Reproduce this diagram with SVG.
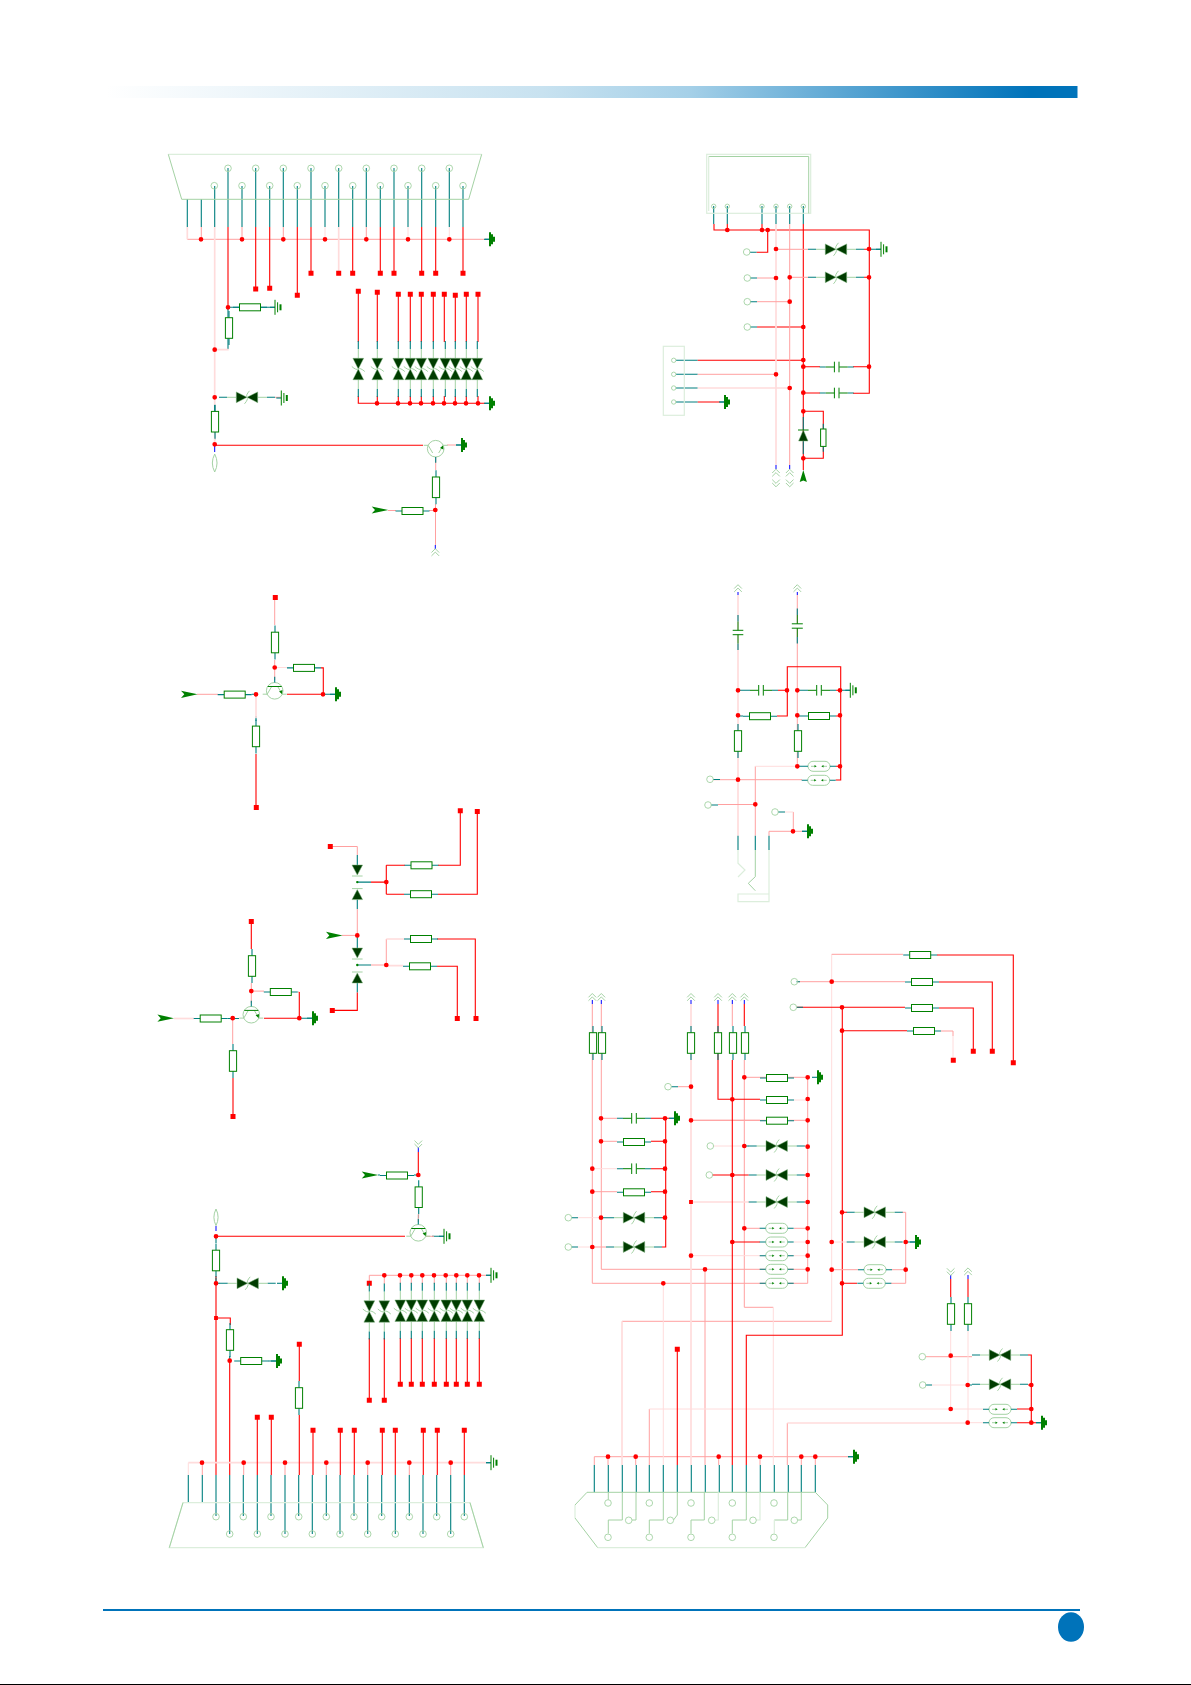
<svg xmlns="http://www.w3.org/2000/svg" width="1191" height="1685" viewBox="0 0 1191 1685">
<style>
path,polyline,line{fill:none}
.r{stroke:#f00;stroke-width:1.1}
.p{stroke:#ffa0a0;stroke-width:1}
.w{stroke:#ffdcdc;stroke-width:1}
.W{stroke:#ffdcdc;stroke-width:1.7}
.t{stroke:#007f7f;stroke-width:1.1}
.b{stroke:#00f;stroke-width:1}
.g{stroke:#a4d2a4;stroke-width:1}
.h{stroke:#dceedc;stroke-width:1.2;fill:none}
.G{stroke:#008000;stroke-width:1}
.dot{stroke:#f00;stroke-width:4.7;stroke-linecap:round}
.sq{stroke:#f00;stroke-width:5;stroke-linecap:square}
.sm{stroke:#f00;stroke-width:3.8;stroke-linecap:square}
.res{fill:#fff;stroke:#008000;stroke-width:1}
.dk{fill:#003c00;stroke:#7fb67f;stroke-width:.5}
.fg{fill:#008000}
.pin{fill:none;stroke:#a4d2a4;stroke-width:.9}
.oval{fill:#fff;stroke:#a4d2a4;stroke-width:1}
</style>
<defs>
<linearGradient id="bar"><stop offset="0" stop-color="#fff"/><stop offset=".45" stop-color="#c8e2f0"/><stop offset=".6" stop-color="#a5d0e8"/><stop offset=".95" stop-color="#0073ba"/><stop offset="1" stop-color="#0073ba"/></linearGradient>
<g id="rh"><path class="t" d="M-17 0H-10M10 0H17"/><rect class="res" x="-10.5" y="-3.5" width="21" height="7"/></g>
<g id="rv"><path class="t" d="M0 -17V-10M0 10V17"/><rect class="res" x="-3.6" y="-10.3" width="7.2" height="20.6"/></g>
<g id="rs"><path class="t" d="M0 -14V-8M0 8V14"/><rect class="res" x="-2.7" y="-8.7" width="5.4" height="17.4"/></g>
<g id="tv"><rect x="-11" y="-1.5" width="22" height="3" fill="#fff"/><path class="g" d="M-20 0H-11M11 0H20"/><path class="t" d="M-28 0H-20M20 0H28"/><path class="dk" d="M-10.7 -5.4L0 0L-10.7 5.4ZM10.7 -5.4L0 0L10.7 5.4Z"/><path class="g" stroke-width=".7" d="M2.5 -6.5Q-1.5 -2 0 0Q1.5 2 -2.5 6.5"/></g>
<g id="tvv"><use href="#tv" transform="rotate(90)"/></g>
<g id="f"><rect class="oval" x="-11" y="-5" width="22" height="10" rx="5"/><path class="t" d="M-17 0H-11M11 0H17"/><path class="g" d="M-8 0H-4M8 0H4"/><path class="fg" d="M-4.5 -1.2L-2.3 0L-4.5 1.2ZM4.5 -1.2L2.3 0L4.5 1.2Z"/></g>
<g id="c1"><rect x="-3" y="-5" width="6" height="10" fill="#fff"/><path class="t" d="M-17 0H-11M11 0H17"/><path class="G" d="M-11 0H-2.5M11 0H2.5"/><path class="G" stroke-width="1.7" d="M-2.3 -5.3V5.3M2.3 -5.3V5.3"/></g>
<g id="c2"><rect x="-6" y="-2" width="12" height="4" fill="#fff"/><path class="t" d="M0 -17.5V-11M0 11V17.5"/><path class="G" d="M0 -11V-2.2M0 11V2.2M-5.3 -2.2H5.3M-5.3 2.2H5.3"/></g>
<g id="c3"><rect x="-6" y="-2" width="12" height="4" fill="#fff"/><path class="t" d="M0 -17.5V-11M0 11V17.5"/><path class="G" d="M0 -11V-2.2M0 11V2.2"/><path class="G" stroke-width="1.8" d="M-5.5 -2.2H5.5M-5.5 2.2H5.5"/></g>
<g id="g1"><path class="t" d="M-5 0H0"/><path class="fg" d="M0 -7H2V-5H4V-2.5H6V2.5H4V5H2V7H0Z"/></g>
<g id="g2"><path class="t" d="M-5 0H0"/><path class="G" d="M0 -7.5V7.5M2.6 -5V5"/><rect class="fg" x="4.5" y="-3" width="2" height="6"/></g>
<g id="qb"><circle class="oval" r="8.3"/><path class="g" d="M-12 3.4H-7.5M7.5 3.4H12M-3 -4.3L-7.5 3.4M3 -4.3L7.5 3.4"/><path class="fg" d="M4.3 .6L7.3 3.3L7.8 -.8Z"/><path class="t" d="M0 -8.3V-14"/></g>
<g id="q"><use href="#qb"/><path class="G" d="M-7 -4.3H7"/></g>
<g id="qf"><use href="#qb" transform="scale(1 -1)"/></g>
<g id="au"><path class="g" d="M-3.8 0L0 -3.8L3.8 0M-3.8 3.4L0 -.4L3.8 3.4"/></g>
<g id="ad"><use href="#au" transform="rotate(180)"/></g>
<path id="ar" class="fg" d="M-8.3 -3.6L8.3 0L-8.3 3.6L-5 0Z"/>
<path id="aru" class="fg" d="M0 -6L3.6 6L0 4.5L-3.6 6Z"/>
<g id="dd"><path class="dk" d="M-5.3 -5H5.3L0 5Z"/><path class="g" d="M-5.3 6H5.3"/></g>
<g id="du"><use href="#dd" transform="scale(1 -1)"/></g>
<circle id="c" class="pin" r="3.3"/>
<circle id="s" class="pin" r="2.2"/>
</defs>
<rect width="1191" height="1685" fill="#fff"/>
<g id="frame">
<rect x="106" y="86" width="971.5" height="12" fill="url(#bar)"/>
<rect x="103" y="1609" width="977" height="2" fill="#0073ba"/>
<ellipse cx="1071" cy="1627" rx="13" ry="14.7" fill="#0073ba"/>
<rect x="0" y="1684" width="1191" height="1" fill="#000"/>
</g>
<g id="connectors">
<path class="t" d="M228 168V227M255.7 168V227M283.3 168V227M311 168V227M338.7 168V227M366.3 168V227M394 168V227M421.7 168V227M449.3 168V227M214.7 186V227M242 186V227M269.7 186V227M297.3 186V227M325 186V227M352.7 186V227M380.3 186V227M408 186V227M435.7 186V227M463 186V227M187.3 199V227M201.3 199V227M228 307.3V349M228 307.3H275M214.7 405V412M214.7 430V440"/>
<path class="p" d="M187.3 239.3H485M201.3 227V239M242 227V239M283.3 227V239M366.3 227V239M275 397.3H281M447 445H456M435.7 456V470M435.5 504V545M388 510.5H396M429 510.5H435"/>
<path class="w" d="M325 227V239M408 227V239M449.3 227V239"/>
<path class="W" d="M187.3 227V239.3M214.7 227V444M338.7 227V273.3M228.7 349.7H214.7"/>
<path class="r" d="M228 227V307.3M255.7 227V289M269.7 227V288M297.3 227V295M311 227V273.3M352.7 227V273.3M380.3 227V273.3M394 227V273.3M421.7 227V273.3M435.7 227V273.3M463 227V273.3M214.7 445.3H423M358.3 291V342M377.3 292V342M398.3 294V342M410.3 294V342M421.3 294V342M433.3 294V342M444.3 294V342M455.3 295V342M466.3 294V342M478 294V342M358.3 396V403.3H485M377.3 396V403M398.3 396V403M410.3 396V403M421.3 396V403M433.3 396V403M444.3 396V403M455.3 396V403M466.3 396V403M478 396V403"/>
<path class="t" d="M485 403.3H489M485 239.3H489M456 445H461M214.7 412V405"/>
<path class="b" d="M214.7 444V452M435.3 545V549"/>
<path class="t" d="M713.7 206V224M727.3 206V224M762 206V224M776 206V224M789.7 206V224M803.3 206V224M756.7 252.3H750M750 278H757M750 301.7H757M750 327H757M676 360.3H697.7M676 374.3H697.7M676 388H697.7M676 402H697.7M720 402H724M869 249.3H881"/>
<path class="r" d="M714 224V230H869.3V393.3H853M727.3 224V230M762 224V230M767.7 230V252.3H756.7M803.3 224V470M864 249.3H869M864 277.3H869M757 327H803.3M697.7 360.3H803.3M697.7 402H720M803.3 366.7H820M853 366.7H869M803.3 393H820M803.3 411.3H823.3V458.3H803.3"/>
<path class="W" d="M776 224V465M697.7 388H789.7"/>
<path class="p" d="M789.7 224V465M776 249.3H808M789.7 277.3H808M757 278H776M757 301.7H789.7M697.7 374.3H776"/>
<path class="b" d="M776 465V469M789.7 465V469"/>
<path class="p" d="M274.7 597.5V625M274.7 660V680M197 694.3H218"/>
<path class="t" d="M251.7 694.3H256M256 716V721M323 694.3H335M275 667.5H287"/>
<path class="w" d="M274.7 667.5H287"/>
<path class="W" d="M256 694.3V718"/>
<path class="r" d="M256 754V807.5M321 667.9H323.3V694.3M287 694.3H323"/>
<path class="p" d="M330.3 846.5H357.3V855M357.3 909V935.4M342 935.4H357.3"/>
<path class="t" d="M357.3 855V865M357.3 899.6V909M357.3 882.1H371M357.3 935.4V948M357.3 982.9V992.5M357.3 965H371"/>
<path class="r" d="M371 882.1H386.3M386.3 865.3V894.2M386.3 865.3H405M386.3 894.2H404M438 865.3H460.3V810.7M438 894.2H477.3V811.4M357.3 992.5V1010.4H332.3M437 939H475.3V1018.5M437 966.3H457.3V1018.5"/>
<path class="p" d="M371 965H386.3V939"/>
<path class="W" d="M386.3 939H404M386.3 965.7H403"/>
<path class="r" d="M251.3 921.5V949M264 1018.2H299.3"/>
<path class="p" d="M251.3 983V1003M251.3 991.1H264M298 992H299.3"/>
<path class="r" d="M299.3 992V1018.2"/>
<path class="W" d="M174 1018.5H194"/>
<path class="t" d="M227.7 1018.5H239M299.3 1018.2H312"/>
<path class="p" d="M232.7 1018.2V1044"/>
<path class="r" d="M233 1078V1116.5"/>
<path class="W" d="M738 595V835.7"/>
<path class="p" d="M797.3 595V766.3M755.3 766.3V835.7M713 779.7H802M718 804.5H755.3M793.3 812V831.3M769 835.7V831.3H802"/>
<path class="w" d="M755.3 766.3H797.3M785 812H793.3"/>
<path class="b" d="M738 592V595M797.3 592V595"/>
<path class="t" d="M738 835.7V850M755.3 835.7V850M769 835.7V850M738 690.3H744M797.3 690.3H802M840 690.3H850M738 716H743M797.3 716H802M797.3 766.3H802M713 779.5H720M711 805H718M778 812H785M802 831.3H807"/>
<path class="r" d="M777 716H787.3V666.7H840.7V780H835.7M778 690.3H787.3M836 690.3H840M836 716H840M836 766.3H840"/>
<path class="h" d="M738 850V863.3L745 870L738 877M769 850V901.7H738V894H769"/>
<path class="g" d="M755.3 850V876.7L748.3 883.3L755.3 890.7"/>
<path class="b" d="M418.3 1147V1152M216 1226V1231"/>
<path class="r" d="M418.3 1152V1175M216 1236.3H405M216 1276V1475M216 1318H230.3V1325M229.7 1360.7V1475"/>
<path class="t" d="M216 1236.3V1243M378 1175H380M414 1175H418M418.5 1215V1218M432 1236.3H444M216 1278V1283M229.7 1356V1361M268 1361H276M216 1283.3H220"/>
<path class="p" d="M418.3 1214V1222M426 1236.3H434"/>
<path class="t" d="M188.3 1503V1475M202.3 1503V1475M216 1516V1475M243.3 1516V1475M271 1516V1475M298.7 1516V1475M326.3 1516V1475M354 1516V1475M381.7 1516V1475M409.3 1516V1475M436.7 1516V1475M464.3 1516V1475M229.7 1534V1475M257.3 1534V1475M285 1534V1475M312.3 1534V1475M340 1534V1475M367.7 1534V1475M395.3 1534V1475M423 1534V1475M450.7 1534V1475M486 1462.7H491"/>
<path class="W" d="M188.3 1462.7H486"/>
<path class="w" d="M188.3 1462.7V1475"/>
<path class="p" d="M202.3 1462.7V1475M243.7 1462.7V1475M285 1462.7V1475M326.3 1462.7V1475M367.7 1462.7V1475M409.3 1462.7V1475M450.7 1462.7V1475"/>
<path class="r" d="M257.3 1475V1417M271.3 1475V1417M299.3 1475V1415M299.3 1381V1344M313 1475V1430M340.3 1475V1430M354.3 1475V1430M382.3 1475V1430M395.3 1475V1430M423.3 1475V1430M437.3 1475V1430M464.3 1475V1430"/>
<path class="p" d="M369.3 1275.3H486M384.3 1275.3V1284M400.3 1275.3V1284M411.3 1275.3V1284M422.3 1275.3V1284M434.3 1275.3V1284M446.3 1275.3V1284M456.3 1275.3V1284M467.3 1275.3V1284M479.3 1275.3V1284M369.3 1275.3V1283"/>
<path class="t" d="M486 1275.3H491M369.3 1283V1285"/>
<path class="r" d="M369.3 1338V1400.3M384.3 1338V1400.3M400.3 1338V1384.3M411.3 1338V1384.3M422.3 1338V1384.3M434.3 1338V1384.3M446.3 1338V1384.3M456.3 1338V1384.3M467.3 1338V1384.3M479.3 1338V1384.3"/>
<path class="b" d="M592.3 1000V1004M601.3 1000V1004M691 1000V1004M718 1000V1004M732.3 1000V1004M744.3 1000V1004"/>
<path class="p" d="M592.3 1004V1283.3H807.7V1077.3M601.3 1004V1269.3H807.7M732.3 1004V1026M744.3 1060V1307.3H773.3M691 1120.3H807.7M744.3 1077.3H807.7M705 1269.3V1465M691 1120.3H760M678 1086.7H691M601 1118.3H617M601 1141.3H617M592.3 1191.7H617M592.3 1247H606M744.3 1228.3H760M794 1228.3H807.7M804 1146H807.7M804 1175H807.7M804 1202H807.7M622 1321.3H831.7M649.3 1409V1465M787.3 1423V1465M594.3 1456.7H849M594.3 1456.7V1465M608 1456.7V1465M635.7 1456.7V1465M718.7 1456.7V1465M760 1456.7V1465M801.3 1456.7V1465M815.3 1456.7V1465"/>
<path class="W" d="M691 1004V1465M622 1321.3V1465"/>
<path class="w" d="M794 1100H807.7M663.3 1283.3V1465M773.3 1307.3V1465M831.7 954.3V1321.3M649.3 1409H950.7M794 1242H807.7M691 1255.7H807.7M592.3 1168.7H617M578 1247H592.3M578 1217.7H601M713.5 1146H744.3"/>
<path class="W" d="M787.3 1423H967.7M691 1202H749"/>
<path class="r" d="M718 1004V1099.3H760M732.3 1060V1465M744.3 1004V1026M712 1175H748.7M732.3 1242H760M842.3 1007V1335.3H746.3V1465M677.3 1349.3V1465M651 1118.3H670M651 1141.3H665.7M651 1168.7H665.7M651 1191.7H665.7M662 1217.7H665.7M662 1247H665.7V1118.3"/>
<path class="t" d="M744.3 1146H749M601 1217.7H606M571.5 1217.7H578M571.5 1247H578M670 1118.3H674M671.3 1086.7H678M594.3 1465V1492.3M608.3 1465V1492.3M622.3 1465V1492.3M636.3 1465V1492.3M649.3 1465V1492.3M663.3 1465V1492.3M677.3 1465V1492.3M691.3 1465V1492.3M705.3 1465V1492.3M719.3 1465V1492.3M732.3 1465V1492.3M746.3 1465V1492.3M760.3 1465V1492.3M774.3 1465V1492.3M788.3 1465V1492.3M801.3 1465V1492.3M815.3 1465V1492.3"/>
<path class="t" d="M848 1456.7H853"/>
<path class="p" d="M831.7 954.3H903M797.5 981.7H905M902 1212.3H905.7V1283.3H891M831.7 1269.7H858M892 1269.7H905.7M941 1031H953V1036M925.5 1356.7H932M932 1356.7H972"/>
<path class="w" d="M953 1036V1060.3M950.7 1331V1409M968 1331V1422.7M932 1385H967.7M950.7 1409H983M967.7 1422.7H983M831.7 1242H847"/>
<path class="r" d="M937 955H1013.3V1062.7M939 982H992.3V1051.3M797 1007.3H905M939 1008H973.3V1051.3M842 1030.7H907M842 1212.3H847M842 1283.3H857M950.7 1279V1297M968 1279V1297M1028 1355H1031.3V1422.7M1028 1385H1031.3M1017 1409H1031.3M1017 1422.7H1036"/>
<path class="t" d="M905.7 1242H915M796.5 981.7H800M796.5 1007.3H803M925.5 1385H932M1036 1422.7H1041M967.7 1385H972"/>
<path class="b" d="M950.7 1275V1279M968 1275V1279"/>
<path class="dot" d="M201 239.3h0M242 239.3h0M283.3 239.3h0M325 239.3h0M366.3 239.3h0M408 239.3h0M449.3 239.3h0M228 307.3h0M214.7 349.7h0M214.7 397.3h0M214.7 444.3h0M435.3 510h0M377 403.3h0M398 403.3h0M410 403.3h0M421 403.3h0M433 403.3h0M444 403.3h0M455 403.3h0M466 403.3h0M478 403.3h0M727.3 230h0M762 230h0M767.7 230h0M776 249h0M869 249h0M789.7 277.3h0M869 277.3h0M776 278h0M789.7 301.7h0M803.3 327h0M803.3 360h0M776 374.3h0M789.7 388h0M803.3 366.7h0M869 366.7h0M803.3 392.7h0M803.3 411.3h0M803.3 458.3h0M274.7 667.5h0M323 694.3h0M256 694.3h0M386.3 882.1h0M357.3 935.4h0M386.3 965h0M251.3 991.1h0M299.3 1018.2h0M232.7 1018.2h0M738 690.3h0M787 690.3h0M797.3 690.3h0M840 690.3h0M738 715.3h0M797.3 715.3h0M840 715.3h0M797.3 766.3h0M840 766.3h0M738 779.7h0M755.3 804.3h0M793 831.3h0M418.3 1175h0M216 1236.3h0M216 1283.3h0M229.7 1360.7h0M202 1462.7h0M243.7 1462.7h0M285 1462.7h0M326.3 1462.7h0M367.7 1462.7h0M409.3 1462.7h0M450.7 1462.7h0M384.3 1275.3h0M400 1275.3h0M411.3 1275.3h0M422.3 1275.3h0M434 1275.3h0M445.7 1275.3h0M456.3 1275.3h0M467.3 1275.3h0M479 1275.3h0M691 1086.7h0M691 1120.3h0M744.3 1077.3h0M807.7 1077.3h0M732.3 1099.3h0M807.7 1099h0M807.7 1120.3h0M744.3 1146h0M807.7 1146.7h0M732.3 1175h0M807.7 1175h0M807.7 1202h0M744.3 1228.3h0M807.7 1228.3h0M732.3 1242h0M807.7 1242h0M691 1255.7h0M807.7 1255.7h0M705 1269.3h0M807.7 1269.3h0M663.3 1283.3h0M601 1118.3h0M665 1118.3h0M601 1141.3h0M665 1141.3h0M592.3 1168.7h0M665 1168.7h0M592.3 1191.7h0M665 1191.7h0M601 1217.7h0M665 1217.7h0M592.3 1247h0M831.7 981.7h0M842 1007.3h0M842 1030.7h0M842 1212.3h0M831.7 1242h0M905.7 1242h0M831.7 1269.7h0M905.7 1269.7h0M842 1283.3h0M950.7 1355.7h0M967.7 1385h0M1031.3 1385h0M950.7 1409h0M1031.3 1409h0M967.7 1422.7h0M1031.3 1422.7h0M608 1456.7h0M635.7 1456.7h0M718.7 1456.7h0M760 1456.7h0M801.3 1456.7h0M815.3 1456.7h0"/>
<path class="sm" d="M691 1202h0M216 1318h0"/>
<path class="sq" d="M255.7 289h0M269.7 288.3h0M297.3 295.3h0M311 273.3h0M338.7 273.3h0M352.7 273.3h0M380.3 273.3h0M394 273.3h0M421.7 273.3h0M435.7 273.3h0M463 273.3h0M358.3 291.3h0M377.3 292.3h0M398.3 294.3h0M410.3 294.3h0M421.3 294.3h0M433.3 294.3h0M444.3 294.3h0M455.3 295.3h0M466.3 294.3h0M478 294.3h0M275.3 597.5h0M256.3 807.5h0M330.3 846.5h0M460.3 810.7h0M477.3 811.4h0M332.3 1010.4h0M476 1018.5h0M457.3 1018.5h0M251.3 921.5h0M233 1116.5h0M299.3 1344.3h0M257.3 1417.3h0M271.3 1417.3h0M313 1430.3h0M340.3 1430.3h0M354.3 1430.3h0M382.3 1430.3h0M395.3 1430.3h0M423.3 1430.3h0M437.3 1430.3h0M464.3 1430.3h0M369.3 1283.3h0M369.3 1400.3h0M384.3 1400.3h0M400.3 1384.3h0M411.3 1384.3h0M422.3 1384.3h0M434.3 1384.3h0M446.3 1384.3h0M456.3 1384.3h0M467.3 1384.3h0M479.3 1384.3h0M677.3 1349.3h0M1013.3 1062.7h0M992.3 1051.3h0M973.3 1051.3h0M953.3 1060.3h0"/>
</g>
<g id="J1"><path class="h" d="M168.3 154.3H481.7"/><path class="g" d="M168.3 154.3L181.7 199.3H468.7L481.7 154.3"/>
<use href="#c" x="228" y="168.3"/><use href="#c" x="255.7" y="168.3"/><use href="#c" x="283.3" y="168.3"/><use href="#c" x="311" y="168.3"/><use href="#c" x="338.7" y="168.3"/><use href="#c" x="366.3" y="168.3"/><use href="#c" x="394" y="168.3"/><use href="#c" x="421.7" y="168.3"/><use href="#c" x="449.3" y="168.3"/>
<use href="#c" x="214.3" y="185.7"/><use href="#c" x="242" y="185.7"/><use href="#c" x="269.7" y="185.7"/><use href="#c" x="297.3" y="185.7"/><use href="#c" x="325" y="185.7"/><use href="#c" x="352.7" y="185.7"/><use href="#c" x="380.3" y="185.7"/><use href="#c" x="408" y="185.7"/><use href="#c" x="435.7" y="185.7"/><use href="#c" x="463" y="185.7"/></g>
<g id="R1"><use href="#rh" x="250" y="307.3"/></g><g id="R2"><use href="#rv" x="229" y="328"/></g><g id="R3"><use href="#rv" x="215" y="421.7"/></g><g id="R4"><use href="#rv" x="436" y="487.3"/></g><g id="R5"><use href="#rh" x="412.5" y="511"/></g>
<g id="V1"><use href="#tv" x="247" y="397.3"/></g>
<g id="GND1"><use href="#g2" x="275" y="307.3"/></g><g id="GND2"><use href="#g2" x="281.3" y="398"/></g><g id="GND3"><use href="#g1" x="489" y="239.3"/></g><g id="GND4"><use href="#g1" x="489" y="403.3"/></g><g id="GND5"><use href="#g1" x="461" y="445"/></g>
<g id="Q1"><use href="#qf" x="435.7" y="448.7"/></g>
<g id="IN1"><use href="#ar" x="380" y="510"/></g><g id="OUT1"><use href="#au" x="435.3" y="552.5"/></g>
<g id="TP1"><path class="g" d="M214.7 454Q210 463 214.7 472Q219.4 463 214.7 454Z"/></g>
<g id="VA1"><use href="#tvv" x="358.3" y="369"/><use href="#tvv" x="377.3" y="369"/><use href="#tvv" x="398.3" y="369"/><use href="#tvv" x="410.3" y="369"/><use href="#tvv" x="421.3" y="369"/><use href="#tvv" x="433.3" y="369"/><use href="#tvv" x="445.3" y="369"/><use href="#tvv" x="455.3" y="369"/><use href="#tvv" x="466.3" y="369"/><use href="#tvv" x="477.3" y="369"/></g>
<g id="J2"><rect x="706.7" y="154.3" width="104" height="59" class="h"/><path class="g" d="M708.7 156.5H808.7V213.3"/><path class="h" d="M708.7 156.5V211"/><use href="#s" x="713.7" y="206.3"/><use href="#s" x="727.3" y="206.3"/><use href="#s" x="762" y="206.3"/><use href="#s" x="776" y="206.3"/><use href="#s" x="789.7" y="206.3"/><use href="#s" x="803.3" y="206.3"/></g>
<g id="J3"><rect x="663.3" y="346.3" width="21" height="69" class="h"/><use href="#s" x="673.7" y="360.3"/><use href="#s" x="673.7" y="374.3"/><use href="#s" x="673.7" y="388"/><use href="#s" x="673.7" y="402"/></g>
<g id="T1"><use href="#c" x="746.7" y="252"/></g><g id="T2"><use href="#c" x="747.3" y="278"/></g><g id="T3"><use href="#c" x="747.3" y="301.7"/></g><g id="T4"><use href="#c" x="747.3" y="327"/></g>
<g id="V2"><use href="#tv" x="836" y="249.3"/></g><g id="V3"><use href="#tv" x="836" y="277.3"/></g>
<g id="GND6"><use href="#g2" x="881" y="249.3"/></g><g id="GND7"><use href="#g1" x="724" y="402"/></g>
<g id="C1"><use href="#c1" x="836.7" y="367"/></g><g id="C2"><use href="#c1" x="836.7" y="393"/></g>
<g id="R6"><use href="#rs" x="823.3" y="437.7"/></g>
<g id="D1"><path class="t" d="M803.3 417V430M803.3 441V454"/><path class="dk" d="M803.3 430L808 441H798.6Z"/><path class="G" d="M798 430H808.6"/></g>
<g id="IN2"><use href="#aru" x="803.3" y="476"/></g>
<g id="A2"><use href="#au" x="776" y="473"/></g><g id="A3"><use href="#au" x="789.7" y="473"/></g><g id="A4"><use href="#ad" x="776" y="483"/></g><g id="A5"><use href="#ad" x="789.7" y="483"/></g>
<g id="R7"><use href="#rv" x="275" y="642.5"/></g><g id="R8"><use href="#rh" x="304" y="667.9"/></g><g id="R9"><use href="#rh" x="234.7" y="694.6"/></g><g id="R10"><use href="#rv" x="256" y="736.4"/></g>
<g id="Q2"><use href="#q" x="274.7" y="690.8"/></g><g id="GND8"><use href="#g1" x="335" y="694.3"/></g><g id="IN3"><use href="#ar" x="189.3" y="694.3"/></g>
<g id="R11"><use href="#rh" x="421.5" y="865.3"/></g><g id="R12"><use href="#rh" x="421" y="894.2"/></g><g id="R13"><use href="#rh" x="421" y="939"/></g><g id="R14"><use href="#rh" x="420" y="966.3"/></g>
<g id="D2"><use href="#dd" x="357.3" y="870"/></g><g id="D3"><use href="#du" x="357.3" y="894.6"/></g><g id="D4"><use href="#dd" x="357.3" y="953"/></g><g id="D5"><use href="#du" x="357.3" y="978"/></g>
<g id="N1"><circle class="fg" cx="357.3" cy="882.1" r="1.2"/></g><g id="N2"><circle class="fg" cx="357.3" cy="965" r="1.2"/></g>
<g id="IN4"><use href="#ar" x="334.3" y="935.4"/></g>
<g id="R15"><use href="#rv" x="252" y="966"/></g><g id="R16"><use href="#rh" x="280.8" y="992"/></g><g id="R17"><use href="#rh" x="210.7" y="1018.5"/></g><g id="R18"><use href="#rv" x="233" y="1061"/></g>
<g id="Q3"><use href="#q" x="251.3" y="1014.7"/></g><g id="GND9"><use href="#g1" x="312" y="1018.2"/></g><g id="IN5"><use href="#ar" x="165.7" y="1018.2"/></g>
<g id="A6"><use href="#au" x="738" y="588.5"/></g><g id="A7"><use href="#au" x="797.3" y="588.5"/></g>
<g id="C3"><use href="#c2" x="738" y="632.5"/></g><g id="C4"><use href="#c3" x="797.3" y="626"/></g><g id="C5"><use href="#c1" x="761" y="690.3"/></g><g id="C6"><use href="#c1" x="819" y="690.3"/></g>
<g id="R19"><use href="#rh" x="760" y="716.2"/></g><g id="R20"><use href="#rh" x="819" y="716"/></g><g id="R21"><use href="#rv" x="738" y="741"/></g><g id="R22"><use href="#rv" x="798" y="741"/></g>
<g id="F1"><use href="#f" x="819" y="766.3"/></g><g id="F2"><use href="#f" x="818.7" y="780.3"/></g>
<g id="T5"><use href="#c" x="710" y="779.3"/></g><g id="T6"><use href="#c" x="708" y="805"/></g><g id="T7"><use href="#c" x="775" y="812"/></g>
<g id="GND10"><use href="#g2" x="850.3" y="690.3"/></g><g id="GND11"><use href="#g1" x="807" y="831.3"/></g>
<g id="A8"><use href="#ad" x="418.3" y="1144"/></g><g id="IN6"><use href="#ar" x="370" y="1175"/></g>
<g id="R23"><use href="#rh" x="397" y="1175.5"/></g><g id="R24"><use href="#rv" x="418.7" y="1197.2"/></g><g id="R25"><use href="#rv" x="216" y="1260.5"/></g><g id="R26"><use href="#rv" x="230" y="1340"/></g><g id="R27"><use href="#rh" x="251.2" y="1361"/></g><g id="R28"><use href="#rv" x="299" y="1398"/></g>
<g id="Q4"><use href="#q" x="418.3" y="1232.8"/></g><g id="V4"><use href="#tv" x="247.7" y="1283.3"/></g>
<g id="GND12"><use href="#g2" x="444" y="1236.3"/></g><g id="GND13"><use href="#g1" x="282" y="1283.3"/></g><g id="GND14"><use href="#g1" x="276" y="1361"/></g><g id="GND15"><use href="#g2" x="491" y="1275.3"/></g><g id="GND16"><use href="#g2" x="491" y="1462.7"/></g>
<g id="TP2"><path class="g" d="M216 1209Q211.8 1217.3 216 1225.6Q220.2 1217.3 216 1209Z"/></g>
<g id="VA2"><use href="#tvv" x="369.3" y="1311.5"/><use href="#tvv" x="384.3" y="1311.5"/><use href="#tvv" x="400.3" y="1310.7"/><use href="#tvv" x="411.3" y="1310.7"/><use href="#tvv" x="422.3" y="1310.7"/><use href="#tvv" x="434.3" y="1310.7"/><use href="#tvv" x="446.3" y="1310.7"/><use href="#tvv" x="456.3" y="1310.7"/><use href="#tvv" x="467.3" y="1310.7"/><use href="#tvv" x="479.3" y="1310.7"/></g>
<g id="J4"><path class="h" d="M183 1502.7H470L483.3 1547.7H169.3Z"/><path class="g" d="M183 1502.7L169.3 1547.7M470 1502.7L483.3 1547.7"/>
<use href="#c" x="216" y="1516.7"/><use href="#c" x="243.3" y="1516.7"/><use href="#c" x="271" y="1516.7"/><use href="#c" x="298.7" y="1516.7"/><use href="#c" x="326.3" y="1516.7"/><use href="#c" x="354" y="1516.7"/><use href="#c" x="381.7" y="1516.7"/><use href="#c" x="409.3" y="1516.7"/><use href="#c" x="436.7" y="1516.7"/><use href="#c" x="464.3" y="1516.7"/>
<use href="#c" x="229.7" y="1534"/><use href="#c" x="257.3" y="1534"/><use href="#c" x="285" y="1534"/><use href="#c" x="312.3" y="1534"/><use href="#c" x="340" y="1534"/><use href="#c" x="367.7" y="1534"/><use href="#c" x="395.3" y="1534"/><use href="#c" x="423" y="1534"/><use href="#c" x="450.7" y="1534"/></g>
<g id="A9"><use href="#au" x="592.3" y="997.3"/></g><g id="A10"><use href="#au" x="601.3" y="997.3"/></g><g id="A11"><use href="#au" x="691" y="997.3"/></g><g id="A12"><use href="#au" x="718" y="997.3"/></g><g id="A13"><use href="#au" x="732.3" y="997.3"/></g><g id="A14"><use href="#au" x="744.3" y="997.3"/></g>
<g id="R29"><use href="#rv" x="593" y="1043"/></g><g id="R30"><use href="#rv" x="602" y="1043"/></g><g id="R31"><use href="#rv" x="691" y="1043"/></g><g id="R32"><use href="#rv" x="718" y="1043"/></g><g id="R33"><use href="#rv" x="733" y="1043"/></g><g id="R34"><use href="#rv" x="745" y="1043"/></g>
<g id="R35"><use href="#rh" x="777" y="1078"/></g><g id="R36"><use href="#rh" x="777" y="1100"/></g><g id="R37"><use href="#rh" x="777" y="1120.7"/></g><g id="R38"><use href="#rh" x="634" y="1142"/></g><g id="R39"><use href="#rh" x="634" y="1192.3"/></g>
<g id="C7"><use href="#c1" x="634" y="1118.3"/></g><g id="C8"><use href="#c1" x="634" y="1168.7"/></g>
<g id="V5"><use href="#tv" x="776.7" y="1146"/></g><g id="V6"><use href="#tv" x="776.7" y="1175"/></g><g id="V7"><use href="#tv" x="776.7" y="1202"/></g><g id="V8"><use href="#tv" x="634" y="1217.7"/></g><g id="V9"><use href="#tv" x="634" y="1247"/></g>
<g id="F3"><use href="#f" x="776.7" y="1228.3"/></g><g id="F4"><use href="#f" x="776.7" y="1242"/></g><g id="F5"><use href="#f" x="776.7" y="1255.7"/></g><g id="F6"><use href="#f" x="776.7" y="1269.3"/></g><g id="F7"><use href="#f" x="776.7" y="1283.3"/></g>
<g id="T8"><use href="#c" x="668" y="1086.7"/></g><g id="T9"><use href="#c" x="710.3" y="1146"/></g><g id="T10"><use href="#c" x="709.3" y="1175"/></g><g id="T11"><use href="#c" x="568.3" y="1217.7"/></g><g id="T12"><use href="#c" x="568.3" y="1247"/></g>
<g id="GND17"><use href="#g1" x="674" y="1118.3"/></g><g id="GND18"><use href="#g1" x="817" y="1077.3"/></g><g id="GND19"><use href="#g1" x="853" y="1456.7"/></g>
<g id="J5"><path class="g" d="M587 1492.3H815.3L827.7 1505V1518L805 1547.7M597.7 1547.7L575 1518M575 1505L587 1492.3"/><path class="h" d="M575 1505V1518M597.7 1547.7H805"/>
<path class="g" d="M608.3 1492.3V1499.7M622.3 1492.3V1520H608.3V1533.5M636 1492.3V1520H632M663.3 1492.3V1520H649.3V1533.5M677.3 1492.3V1515L673.5 1520M704.3 1492.3V1520H691V1533.5M746.3 1492.3V1520H732.3V1533.5M787.7 1492.3V1520H774.3M801.3 1492.3V1520H797.5"/><path class="h" d="M718.3 1492.3V1520H715M760 1492.3V1520H756M774.3 1520V1533.5"/>
<use href="#c" x="608" y="1503"/><use href="#c" x="649.3" y="1503"/><use href="#c" x="691" y="1503"/><use href="#c" x="732.3" y="1503"/><use href="#c" x="774" y="1503"/><use href="#c" x="628.7" y="1520.3"/><use href="#c" x="670.3" y="1520.3"/><use href="#c" x="711.7" y="1520.3"/><use href="#c" x="753" y="1520.3"/><use href="#c" x="794.3" y="1520.3"/><use href="#c" x="608" y="1537.3"/><use href="#c" x="649.3" y="1537.3"/><use href="#c" x="691" y="1537.3"/><use href="#c" x="732.3" y="1537.3"/><use href="#c" x="774" y="1537.3"/></g>
<g id="R40"><use href="#rh" x="920.2" y="955"/></g><g id="R41"><use href="#rh" x="922" y="982"/></g><g id="R42"><use href="#rh" x="922" y="1008"/></g><g id="R43"><use href="#rh" x="924" y="1031"/></g><g id="R44"><use href="#rv" x="951" y="1314"/></g><g id="R45"><use href="#rv" x="968" y="1314"/></g>
<g id="T13"><use href="#c" x="794.3" y="981.7"/></g><g id="T14"><use href="#c" x="793.3" y="1007.3"/></g><g id="T15"><use href="#c" x="922.3" y="1356.7"/></g><g id="T16"><use href="#c" x="922.7" y="1385"/></g>
<g id="V10"><use href="#tv" x="874.7" y="1212.3"/></g><g id="V11"><use href="#tv" x="874.7" y="1242"/></g><g id="V12"><use href="#tv" x="1000" y="1355"/></g><g id="V13"><use href="#tv" x="1000" y="1384.3"/></g>
<g id="F8"><use href="#f" x="875" y="1269.7"/></g><g id="F9"><use href="#f" x="874.3" y="1283.3"/></g><g id="F10"><use href="#f" x="1000" y="1409.3"/></g><g id="F11"><use href="#f" x="1000" y="1422.7"/></g>
<g id="GND20"><use href="#g1" x="915" y="1242"/></g><g id="GND21"><use href="#g1" x="1041" y="1422.7"/></g>
<g id="A15"><use href="#ad" x="950.7" y="1271.7"/></g><g id="A16"><use href="#au" x="968" y="1271.7"/></g>
</svg>
